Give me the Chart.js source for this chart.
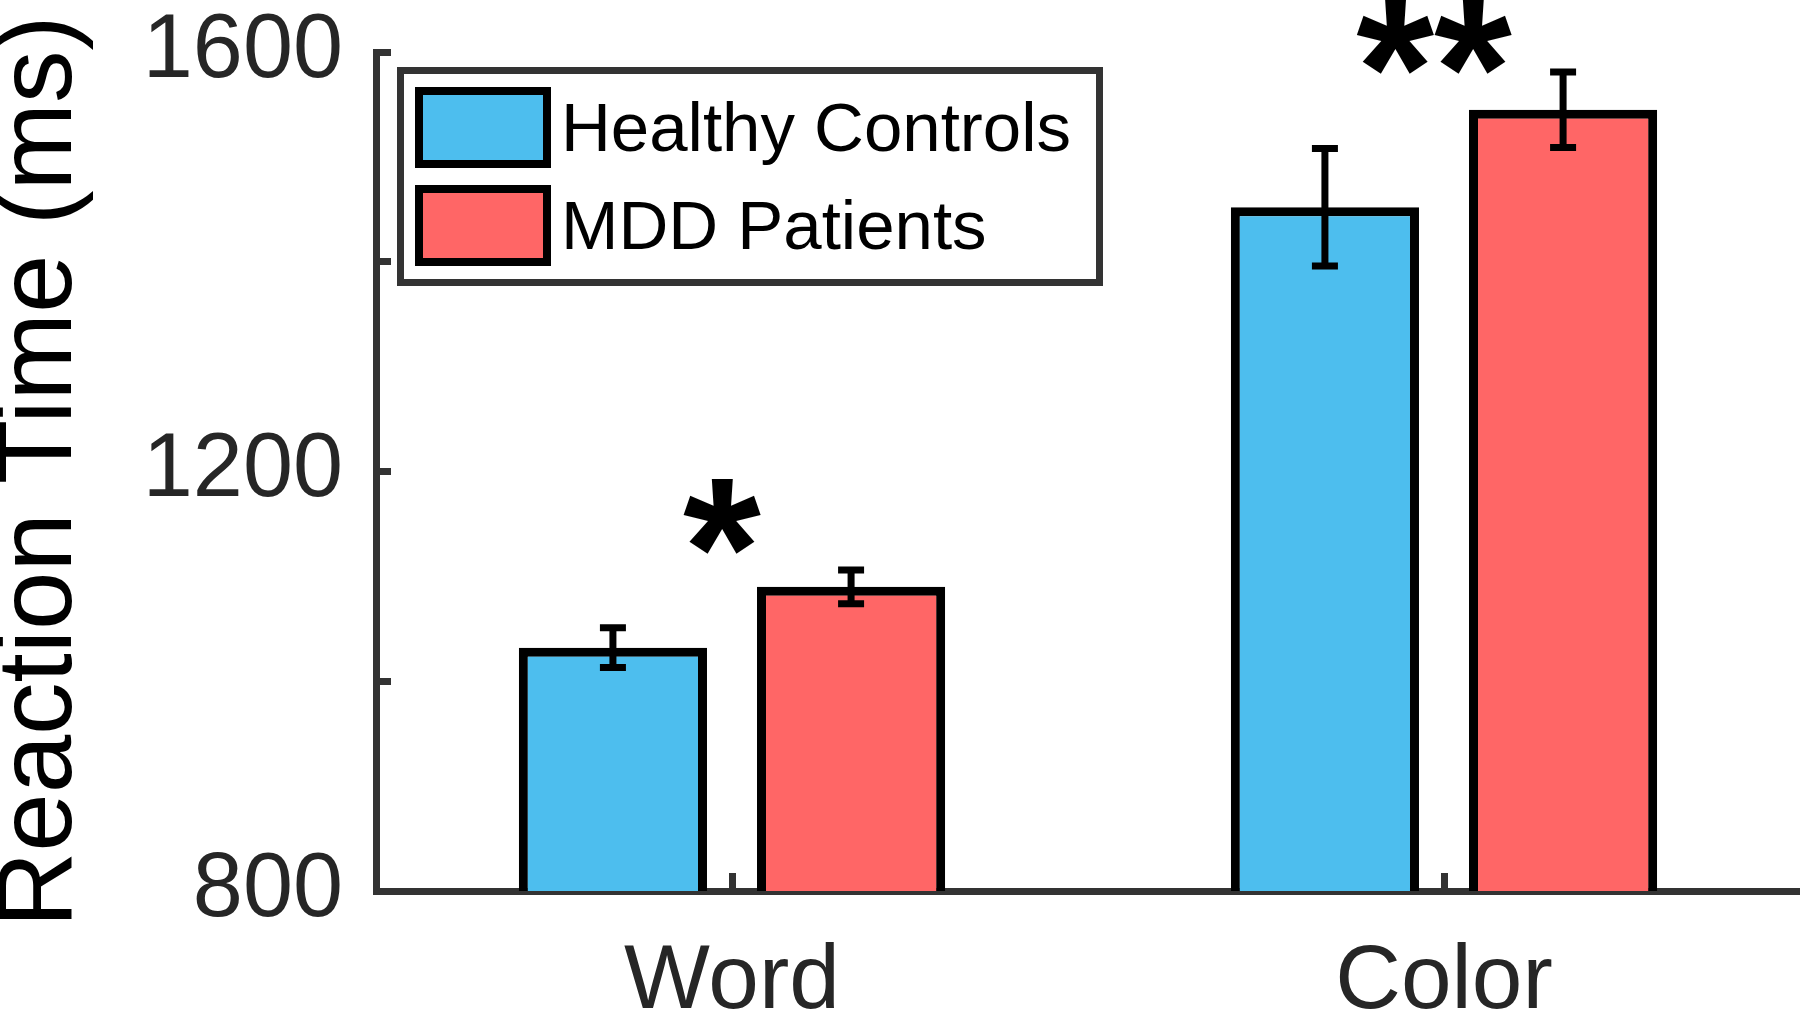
<!DOCTYPE html>
<html>
<head>
<meta charset="utf-8">
<script src="https://cdn.jsdelivr.net/npm/chart.js@4.4.0/dist/chart.umd.min.js"></script>
<style>
  body { margin: 0; background: #fff; }
  #wrap { position: relative; width: 1800px; height: 1013px; }
  #legend {
    position: absolute; left: 397px; top: 67px; width: 692px; height: 205px;
    border: 7px solid #333; background: #fff;
    font-family: "Liberation Sans", Arial, sans-serif;
  }
  .item { position: absolute; left: 11px; height: 81px; display: flex; align-items: center; }
  .swatch { width: 120px; height: 65px; border: 8px solid #000; }
  .label { margin-left: 10px; font-size: 69px; color: #000; white-space: nowrap; }
</style>
</head>
<body>
<div id="wrap">
  <canvas id="chart" width="1800" height="1013"></canvas>
  <div id="legend"></div>
</div>
<script>
// Data
var categories = ['Word', 'Color'];
var groupNames = ['Healthy Controls', 'MDD Patients'];
var groupColors = ['#4DBEEE', '#FF6666'];
var healthyMeans = [1032, 1452];
var healthyErrors = [19, 56];
var mddMeans = [1090, 1545];
var mddErrors = [16, 36];
var sigMarks = ['*', '**'];
var sigLevels = [1157, 1615];
var labeledTicks = [800, 1200, 1600];

var FONT = '"Liberation Sans", Arial, Helvetica, sans-serif';

// error bars drawn on top of each bar
var errorBars = {
  id: 'errorBars',
  afterDatasetsDraw: function(chart) {
    var ctx = chart.ctx;
    var y = chart.scales.y;
    chart.data.datasets.forEach(function(ds, i) {
      chart.getDatasetMeta(i).data.forEach(function(bar, j) {
        var hi = y.getPixelForValue(ds.data[j] + ds.errors[j]);
        var lo = y.getPixelForValue(ds.data[j] - ds.errors[j]);
        ctx.save();
        ctx.strokeStyle = '#000';
        ctx.lineWidth = 7;
        ctx.beginPath();
        ctx.moveTo(bar.x, hi); ctx.lineTo(bar.x, lo);
        ctx.moveTo(bar.x - 13, hi); ctx.lineTo(bar.x + 13, hi);
        ctx.moveTo(bar.x - 13, lo); ctx.lineTo(bar.x + 13, lo);
        ctx.stroke();
        ctx.restore();
      });
    });
  }
};

// significance asterisks above each group
var sigStars = {
  id: 'sigStars',
  afterDraw: function(chart) {
    var ctx = chart.ctx;
    var x = chart.scales.x, y = chart.scales.y;
    ctx.save();
    ctx.fillStyle = '#000';
    ctx.font = 'bold 200px ' + FONT;
    ctx.textAlign = 'center';
    ctx.textBaseline = 'alphabetic';
    sigMarks.forEach(function(txt, i) {
      var m = ctx.measureText(txt);
      var cy = y.getPixelForValue(sigLevels[i]);
      var base = cy + (m.actualBoundingBoxAscent - m.actualBoundingBoxDescent) / 2;
      ctx.fillText(txt, x.getPixelForValue(i) - 10, base);
    });
    ctx.restore();
  }
};

var datasets = [
  { label: groupNames[0], data: healthyMeans, errors: healthyErrors },
  { label: groupNames[1], data: mddMeans, errors: mddErrors }
].map(function(d, i) {
  d.backgroundColor = groupColors[i];
  d.borderColor = '#000';
  d.borderWidth = 9;
  d.categoryPercentage = 0.669;
  d.barPercentage = 0.79;
  return d;
});

var ctx = document.getElementById('chart').getContext('2d');
var chart = new Chart(ctx, {
  type: 'bar',
  data: { labels: categories, datasets: datasets },
  options: {
    responsive: false,
    animation: false,
    devicePixelRatio: 1,
    layout: { padding: { top: 52, right: 0, bottom: 0, left: 0 } },
    plugins: { legend: { display: false }, tooltip: { enabled: false } },
    scales: {
      x: {
        z: 1,
        grid: { display: true, drawOnChartArea: false, offset: false, drawTicks: true,
                tickLength: -18, lineWidth: 7, color: '#333' },
        border: { display: true, color: '#333', width: 7 },
        ticks: { padding: 55, color: '#262626', font: { family: FONT, size: 91, lineHeight: 1.2 } },
        afterFit: function(s) { s.height = 122; s.paddingLeft = 0; s.paddingRight = 0; }
      },
      y: {
        z: 1,
        min: 800, max: 1600,
        grid: { display: true, drawOnChartArea: false, drawTicks: true,
                tickLength: -15, lineWidth: 7, color: '#333' },
        border: { display: true, color: '#333', width: 7 },
        ticks: {
          stepSize: 200, padding: 48, color: '#262626',
          font: { family: FONT, size: 90, lineHeight: 1 },
          callback: function(v) { return labeledTicks.indexOf(v) >= 0 ? String(v) : ''; }
        },
        title: {
          display: true, text: 'Reaction Time (ms)', color: '#000',
          padding: 0, font: { family: FONT, size: 105, lineHeight: 0.8 }
        },
        afterFit: function(s) { s.width = 376; s.paddingTop = 0; s.paddingBottom = 0; }
      }
    }
  },
  plugins: [errorBars, sigStars]
});

// legend built from the datasets
var legend = document.getElementById('legend');
datasets.forEach(function(ds, i) {
  var item = document.createElement('div');
  item.className = 'item';
  item.style.top = (13 + i * 98) + 'px';
  var sw = document.createElement('div');
  sw.className = 'swatch';
  sw.style.background = ds.backgroundColor;
  var lb = document.createElement('span');
  lb.className = 'label';
  lb.textContent = ds.label;
  item.appendChild(sw);
  item.appendChild(lb);
  legend.appendChild(item);
});
</script>
</body>
</html>
